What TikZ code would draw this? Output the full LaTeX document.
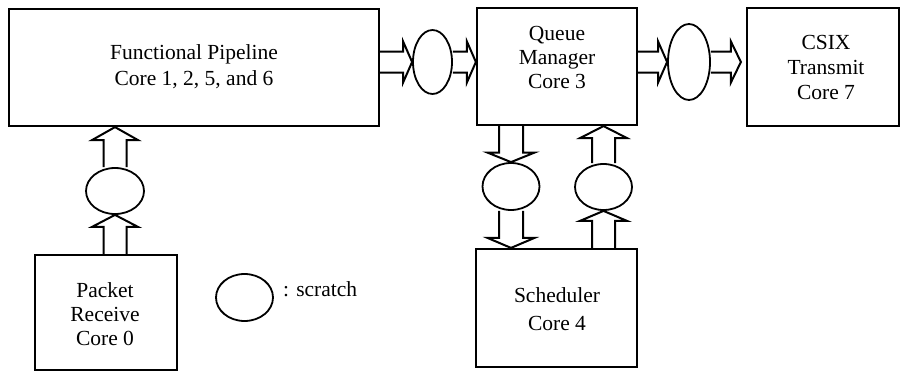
\documentclass[tikz,border=0pt]{standalone}
\usepackage{fontspec}
\setmainfont{Liberation Serif}
\usetikzlibrary{calc,shapes.geometric}
\newcommand{\blkH}[5]{\draw[blk] let \p1=(#1), \p2=(#2) in
  (\x1,\y1+#3pt) -- (\x2-#5pt,\y1+#3pt) -- (\x2-#5pt,\y1+#4pt) -- (\x2,\y1)
  -- (\x2-#5pt,\y1-#4pt) -- (\x2-#5pt,\y1-#3pt) -- (\x1,\y1-#3pt);}
\newcommand{\blkUp}[5]{\draw[blk] let \p1=(#1), \p2=(#2) in
  (\x1-#3pt,\y1) -- (\x1-#3pt,\y2-#5pt) -- (\x1-#4pt,\y2-#5pt) -- (\x1,\y2)
  -- (\x1+#4pt,\y2-#5pt) -- (\x1+#3pt,\y2-#5pt) -- (\x1+#3pt,\y1);}
\newcommand{\blkDown}[5]{\draw[blk] let \p1=(#1), \p2=(#2) in
  (\x1-#3pt,\y1) -- (\x1-#3pt,\y2+#5pt) -- (\x1-#4pt,\y2+#5pt) -- (\x1,\y2)
  -- (\x1+#4pt,\y2+#5pt) -- (\x1+#3pt,\y2+#5pt) -- (\x1+#3pt,\y1);}
\tikzset{
  box/.style={draw, line width=2.2pt, rectangle, inner sep=0pt},
  scr/.style={draw, line width=1.8pt, ellipse, inner sep=0pt},
  blk/.style={draw, line width=2pt, line join=miter},
  txt/.style={align=center, inner sep=0pt, font=\fontsize{21.5}{#1}\selectfont},
  txt/.default=25
}
\begin{document}
\begin{tikzpicture}[x=1pt,y=-1pt]
\useasboundingbox (0,0) rectangle (900,372);
% boxes
\node[box, minimum width=370pt, minimum height=117pt] (FP) at (194,67.5) {};
\node[txt=26] (FPt) at (194,67) {Functional Pipeline\\Core 1, 2, 5, and 6};
\node[box, minimum width=160pt, minimum height=117pt] (QM) at (557,66.5) {};
\node[txt=24] (QMt) at (557,57.5) {Queue\\Manager\\Core 3};
\node[box, minimum width=152pt, minimum height=118pt] (CS) at (823,67) {};
\node[txt=25] (CSt) at (826,67) {CSIX\\Transmit\\Core 7};
\node[box, minimum width=142pt, minimum height=115pt] (PR) at (106,312.5) {};
\node[txt=24] (PRt) at (105,314) {Packet\\Receive\\Core 0};
\node[box, minimum width=161pt, minimum height=118pt] (SC) at (556.5,308) {};
\node[txt=28] (SCt) at (557,309) {Scheduler\\Core 4};
% scratch ellipses
\node[scr, minimum width=39pt, minimum height=64pt] (E1) at (432.5,62) {};
\node[scr, minimum width=42pt, minimum height=76pt] (E2) at (689,62) {};
\node[scr, minimum width=58pt, minimum height=46pt] (EP) at (115,191) {};
\node[scr, minimum width=57pt, minimum height=47pt] (EL) at (511,186.5) {};
\node[scr, minimum width=57pt, minimum height=46pt] (ER) at (603.5,187) {};
\node[scr, minimum width=57pt, minimum height=47pt] (LG) at (244.5,297.5) {};
\node[txt, anchor=base west] (LGt) at (283,296) {: scratch};
% block arrows
\blkH{FP.east |- E1.west}{E1.west}{10.5}{20.5}{9}
\blkH{E1.east}{QM.west |- E1.east}{10.5}{20.5}{9}
\blkH{QM.east |- E2.west}{E2.west}{10.5}{20.5}{9}
\coordinate (T4) at ($(CS.west |- E2.east)+(-5,0)$);
\blkH{E2.east}{T4}{10.5}{20.5}{10}
\blkUp{PR.north -| EP.south}{EP.south}{11.5}{23}{12}
\blkUp{EP.north}{FP.south -| EP.north}{11.5}{23}{13}
\blkDown{QM.south -| EL.north}{EL.north}{12}{23.5}{9.5}
\blkDown{EL.south}{SC.north -| EL.south}{12}{23.5}{10}
\blkUp{SC.north -| ER.south}{ER.south}{11.5}{23.5}{10}
\blkUp{ER.north}{QM.south -| ER.north}{11.5}{23.5}{12}
\end{tikzpicture}
\end{document}
